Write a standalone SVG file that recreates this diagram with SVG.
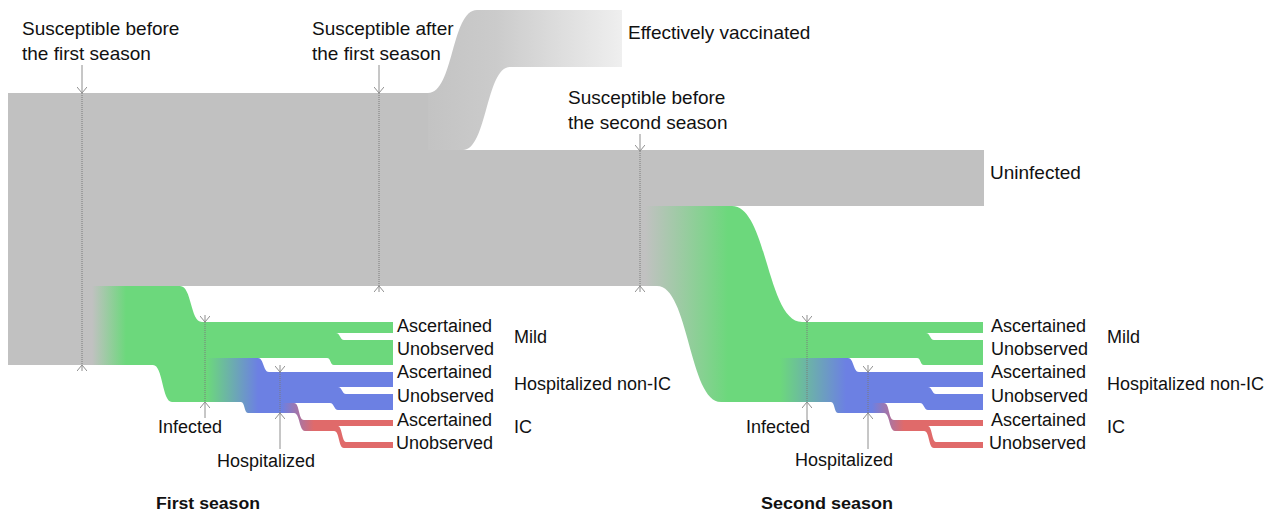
<svg xmlns="http://www.w3.org/2000/svg" width="1271" height="515" viewBox="0 0 1271 515">
<style>
text{font-family:"Liberation Sans",Arial,sans-serif;fill:#111;}
.big{font-size:19px;}
.lab{font-size:18px;}
.sea{font-size:16px;font-weight:bold;}
.gray{fill:#c1c1c1;}
.ln{stroke:#8e8e8e;stroke-width:1;fill:none;}
.dot{stroke:#7a7a7a;stroke-width:1;fill:none;stroke-dasharray:1 1;}
</style>
<defs>
<marker id="ah" viewBox="0 0 6 10" refX="6" refY="5" markerWidth="6" markerHeight="10" markerUnits="userSpaceOnUse" orient="auto">
<path d="M0,0 L6,5 L0,10" fill="none" stroke="#8e8e8e" stroke-width="1"/>
</marker>
<linearGradient id="gVac" gradientUnits="userSpaceOnUse" x1="428" y1="0" x2="622" y2="0">
<stop offset="0" stop-color="#c3c3c3"/><stop offset="0.35" stop-color="#cbcbcb"/><stop offset="1" stop-color="#efefef"/>
</linearGradient>
<linearGradient id="gG1" gradientUnits="userSpaceOnUse" x1="92" y1="0" x2="126" y2="0">
<stop offset="0" stop-color="#c1c1c1"/><stop offset="1" stop-color="#6cd87c"/>
</linearGradient>
<linearGradient id="gG2" gradientUnits="userSpaceOnUse" x1="645" y1="0" x2="728" y2="0">
<stop offset="0" stop-color="#c1c1c1"/><stop offset="1" stop-color="#6cd87c"/>
</linearGradient>
<linearGradient id="gB1" gradientUnits="userSpaceOnUse" x1="207" y1="0" x2="258" y2="0">
<stop offset="0" stop-color="#6cd87c"/><stop offset="1" stop-color="#6c80e3"/>
</linearGradient>
<linearGradient id="gB2" gradientUnits="userSpaceOnUse" x1="780" y1="0" x2="846" y2="0">
<stop offset="0" stop-color="#6cd87c"/><stop offset="1" stop-color="#6c80e3"/>
</linearGradient>
<linearGradient id="gR1" gradientUnits="userSpaceOnUse" x1="282" y1="0" x2="314" y2="0">
<stop offset="0" stop-color="#6c80e3"/><stop offset="1" stop-color="#e06a6a"/>
</linearGradient>
<linearGradient id="gR2" gradientUnits="userSpaceOnUse" x1="872" y1="0" x2="904" y2="0">
<stop offset="0" stop-color="#6c80e3"/><stop offset="1" stop-color="#e06a6a"/>
</linearGradient>
</defs>

<g id="susceptible">
<path class="gray" d="M8,93 H432 V150 H984 V206 H643 V286 H92 V365 H8 Z"/>
</g>
<g id="vaccinated">
<path fill="url(#gVac)" d="M428,93 C454,93 451,10 477,10 H622 V67 H510 C486,67 487,150 463,150 H428 Z"/>
</g>

<g id="season1">
<path id="s1-infected" fill="url(#gG1)" d="M92,286 H180 C192,286 190,322 202,322 H393 V333 H336 C340,333 340,340 344,340 H393 V365 H334 C330,365 331,358 327,358 H205 V402 H172 C162,402 163,365 153,365 H92 Z"/>
<path id="s1-hosp" fill="url(#gB1)" d="M205,358 H258 C264,358 263,372 269,372 H393 V387 H338 C342,387 342,394 346,394 H393 V410 H338 C334,410 334,403 330,403 H282 V413 H248 C244,413 245,402 241,402 H205 Z"/>
<path id="s1-ic" fill="url(#gR1)" d="M280,403 H294 C300,403 298,420 304,420 H393 V426 H338 C342,426 342,442 346,442 H393 V448 H344 C338,448 340,431 334,431 H305 C299,431 300,413 294,413 H280 Z"/>
</g>

<g id="season2">
<path id="s2-infected" fill="url(#gG2)" d="M643,206 H732 C767,206 767,322 802,322 H983 V333 H926 C930,333 930,340 934,340 H983 V365 H924 C920,365 921,358 917,358 H777 V402 H721 C689,402 689,286 657,286 H643 Z"/>
<path id="s2-hosp" fill="url(#gB2)" d="M777,358 H848 C854,358 853,372 859,372 H983 V387 H928 C932,387 932,394 936,394 H983 V410 H928 C924,410 924,403 920,403 H872 V413 H838 C834,413 835,402 831,402 H777 Z"/>
<path id="s2-ic" fill="url(#gR2)" d="M870,403 H884 C890,403 888,420 894,420 H983 V426 H928 C932,426 932,442 936,442 H983 V448 H934 C928,448 930,431 924,431 H895 C889,431 890,413 884,413 H870 Z"/>
</g>

<g id="connectors">
<path class="ln" d="M82,65 V93" marker-end="url(#ah)"/>
<path class="dot" d="M82,93 V365"/>
<path class="ln" d="M82,371 V365" marker-end="url(#ah)"/>
<path class="ln" d="M379,65 V93" marker-end="url(#ah)"/>
<path class="dot" d="M379,93 V286"/>
<path class="ln" d="M379,292 V286" marker-end="url(#ah)"/>
<path class="ln" d="M640,134 V151" marker-end="url(#ah)"/>
<path class="dot" d="M640,151 V286"/>
<path class="ln" d="M640,292 V286" marker-end="url(#ah)"/>
<path class="ln" d="M205,315 V322" marker-end="url(#ah)"/>
<path class="dot" d="M205,322 V402"/>
<path class="ln" d="M205,418 V402" marker-end="url(#ah)"/>
<path class="ln" d="M280,365 V372" marker-end="url(#ah)"/>
<path class="dot" d="M280,372 V413"/>
<path class="ln" d="M280,449 V413" marker-end="url(#ah)"/>
<path class="ln" d="M807,315 V322" marker-end="url(#ah)"/>
<path class="dot" d="M807,322 V402"/>
<path class="ln" d="M807,422 V402" marker-end="url(#ah)"/>
<path class="ln" d="M868,365 V372" marker-end="url(#ah)"/>
<path class="dot" d="M868,372 V413"/>
<path class="ln" d="M868,449 V413" marker-end="url(#ah)"/>
</g>

<g id="labels">
<text class="big" x="22" y="35">Susceptible before</text>
<text class="big" x="22" y="60">the first season</text>
<text class="big" x="312" y="35">Susceptible after</text>
<text class="big" x="312" y="60">the first season</text>
<text class="big" x="628" y="39">Effectively vaccinated</text>
<text class="big" x="568" y="104">Susceptible before</text>
<text class="big" x="568" y="129">the second season</text>
<text class="big" x="990" y="179">Uninfected</text>

<text class="lab" x="397" y="332">Ascertained</text>
<text class="lab" x="397" y="355">Unobserved</text>
<text class="lab" x="397" y="378">Ascertained</text>
<text class="lab" x="397" y="402">Unobserved</text>
<text class="lab" x="397" y="426">Ascertained</text>
<text class="lab" x="396" y="449">Unobserved</text>
<text class="lab" x="514" y="343">Mild</text>
<text class="lab" x="514" y="390">Hospitalized non-IC</text>
<text class="lab" x="514" y="433">IC</text>
<text class="lab" x="158" y="433">Infected</text>
<text class="lab" x="217" y="467">Hospitalized</text>

<text class="lab" x="991" y="332">Ascertained</text>
<text class="lab" x="991" y="355">Unobserved</text>
<text class="lab" x="991" y="378">Ascertained</text>
<text class="lab" x="991" y="402">Unobserved</text>
<text class="lab" x="991" y="426">Ascertained</text>
<text class="lab" x="989" y="449">Unobserved</text>
<text class="lab" x="1107" y="343">Mild</text>
<text class="lab" x="1107" y="390">Hospitalized non-IC</text>
<text class="lab" x="1107" y="433">IC</text>
<text class="lab" x="746" y="433">Infected</text>
<text class="lab" x="795" y="466">Hospitalized</text>

<text class="sea" x="156" y="509" textLength="104" lengthAdjust="spacingAndGlyphs">First season</text>
<text class="sea" x="761" y="509" textLength="132" lengthAdjust="spacingAndGlyphs">Second season</text>
</g>
</svg>
